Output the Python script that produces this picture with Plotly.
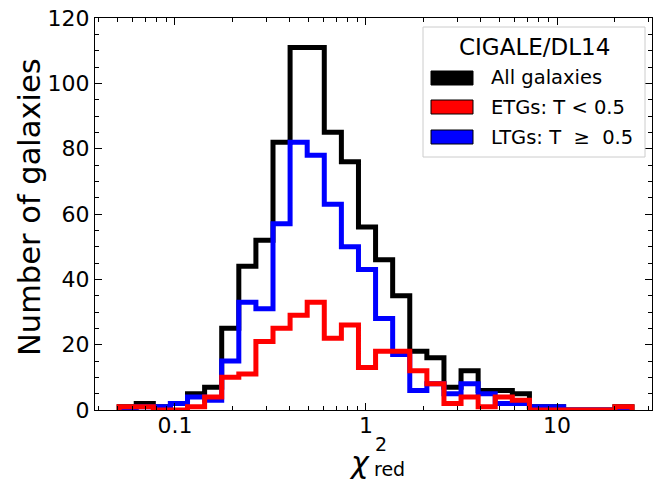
import numpy as np
import plotly.graph_objects as go

# Reduced chi-square distribution of CIGALE/DL14 fits, 30 log-spaced bins
chi2_range = (0.051, 24.7)
n_bins = 30

etg_counts = [1, 1, 0, 0, 1, 4, 10, 11, 21, 25, 29, 33, 22, 26, 13,
              18, 18, 12, 8, 2, 4, 1, 4, 3, 0, 0, 0, 0, 0, 1]
ltg_counts = [0, 1, 1, 2, 4, 3, 15, 33, 31, 57, 82, 78, 63, 50, 43,
              28, 17, 6, 8, 5, 8, 5, 2, 2, 1, 1, 0, 0, 0, 0]
all_counts = [1, 2, 1, 2, 5, 7, 25, 44, 52, 82, 111, 111, 85, 76, 56,
              46, 35, 18, 16, 7, 12, 6, 6, 5, 1, 1, 0, 0, 0, 1]

series_names = ["All galaxies", "ETGs: T < 0.5", "LTGs: T\u00a0\u00a0≥\u00a0\u00a00.5"]
series_colors = ["#000000", "#ff0000", "#0000ff"]

x_ticks = [0.1, 1, 10]
x_tick_labels = ["0.1", "1", "10"]
y_ticks = [0, 20, 40, 60, 80, 100, 120]

edges = np.logspace(np.log10(chi2_range[0]), np.log10(chi2_range[1]), n_bins + 1)

FONT = "DejaVu Sans"


def step_outline(counts):
    xs = [edges[0]] + list(edges) + [edges[-1]]
    ys = [0] + list(counts) + [counts[-1], 0]
    return xs, ys


fig = go.Figure()
# draw order: all, LTGs, ETGs on top
for counts, name, color in [(all_counts, series_names[0], series_colors[0]),
                            (ltg_counts, series_names[2], series_colors[2]),
                            (etg_counts, series_names[1], series_colors[1])]:
    xs, ys = step_outline(counts)
    fig.add_trace(go.Scatter(x=xs, y=ys, mode="lines", name=name,
                             line=dict(color=color, width=5, shape="hv"),
                             showlegend=False, hoverinfo="skip"))

# plot area in pixels
L, R, T, B = 95, 652, 18, 410
W, H = 654, 485
pw, ph = R - L, B - T


def px(xp):
    return (xp - L) / pw


def py(yp):
    return (B - yp) / ph


minor_x = [v * 10.0 ** d for d in (-2, -1, 0, 1) for v in range(2, 10)]
minor_x = [v for v in minor_x if 0.035 < v < 32]

fig.update_layout(
    width=W, height=H,
    margin=dict(l=L, r=W - R, t=T, b=H - B, pad=0),
    paper_bgcolor="white", plot_bgcolor="white",
    font=dict(family=FONT, color="black"),
    xaxis=dict(type="log", range=[-1.4188, 1.4974],
               tickmode="array", tickvals=x_ticks, ticktext=x_tick_labels,
               ticks="inside", ticklen=7, tickwidth=1.2, tickcolor="black",
               showline=True, linecolor="black", linewidth=1.2, mirror="ticks",
               showgrid=False, zeroline=False, ticklabelstandoff=-5,
               tickfont=dict(size=22, family=FONT),
               minor=dict(tickmode="array", tickvals=minor_x, ticks="inside",
                          ticklen=4, tickwidth=1, tickcolor="black", showgrid=False)),
    yaxis=dict(range=[0, 120], tickmode="array", tickvals=y_ticks,
               ticks="inside", ticklen=7, tickwidth=1.2, tickcolor="black",
               showline=True, linecolor="black", linewidth=1.2, mirror="ticks",
               showgrid=False, zeroline=False,
               tickfont=dict(size=22, family=FONT),
               minor=dict(dtick=5, ticks="inside", ticklen=4, tickwidth=1,
                          tickcolor="black", showgrid=False)),
)

annotations = []
shapes = []

# axis titles
annotations.append(dict(text="Number of galaxies", xref="paper", yref="paper",
                        x=px(30), y=py(207), textangle=-90, showarrow=False,
                        xanchor="center", yanchor="middle",
                        font=dict(size=30.5, family=FONT)))
annotations.append(dict(text="<i>χ</i>", xref="paper", yref="paper",
                        x=px(359), y=py(462), showarrow=False,
                        xanchor="center", yanchor="middle",
                        font=dict(size=30, family=FONT)))
annotations.append(dict(text="2", xref="paper", yref="paper",
                        x=px(373), y=py(444), showarrow=False,
                        xanchor="left", yanchor="middle",
                        font=dict(size=19, family=FONT)))
annotations.append(dict(text="red", xref="paper", yref="paper",
                        x=px(372), y=py(469), showarrow=False,
                        xanchor="left", yanchor="middle",
                        font=dict(size=19, family=FONT)))

# legend box
bx0, bx1, by0, by1 = 423, 645, 27, 157
shapes.append(dict(type="rect", xref="paper", yref="paper",
                   x0=px(bx0), x1=px(bx1), y0=py(by1), y1=py(by0),
                   line=dict(color="#cccccc", width=1),
                   fillcolor="rgba(255,255,255,0.8)", layer="above"))
annotations.append(dict(text="CIGALE/DL14", xref="paper", yref="paper",
                        x=px(534), y=py(47), showarrow=False,
                        xanchor="center", yanchor="middle",
                        font=dict(size=23, family=FONT)))
legend_rows = [(series_names[0], series_colors[0], 78),
               (series_names[1], series_colors[1], 107),
               (series_names[2], series_colors[2], 137)]
for name, color, yc in legend_rows:
    shapes.append(dict(type="rect", xref="paper", yref="paper",
                       x0=px(431), x1=px(473), y0=py(yc + 7), y1=py(yc - 7),
                       line=dict(color="black", width=1), fillcolor=color,
                       layer="above"))
    annotations.append(dict(text=name, xref="paper", yref="paper",
                            x=px(489), y=py(yc), showarrow=False,
                            xanchor="left", yanchor="middle",
                            font=dict(size=19.5, family=FONT)))

fig.update_layout(annotations=annotations, shapes=shapes)

fig.write_html("out.html")
